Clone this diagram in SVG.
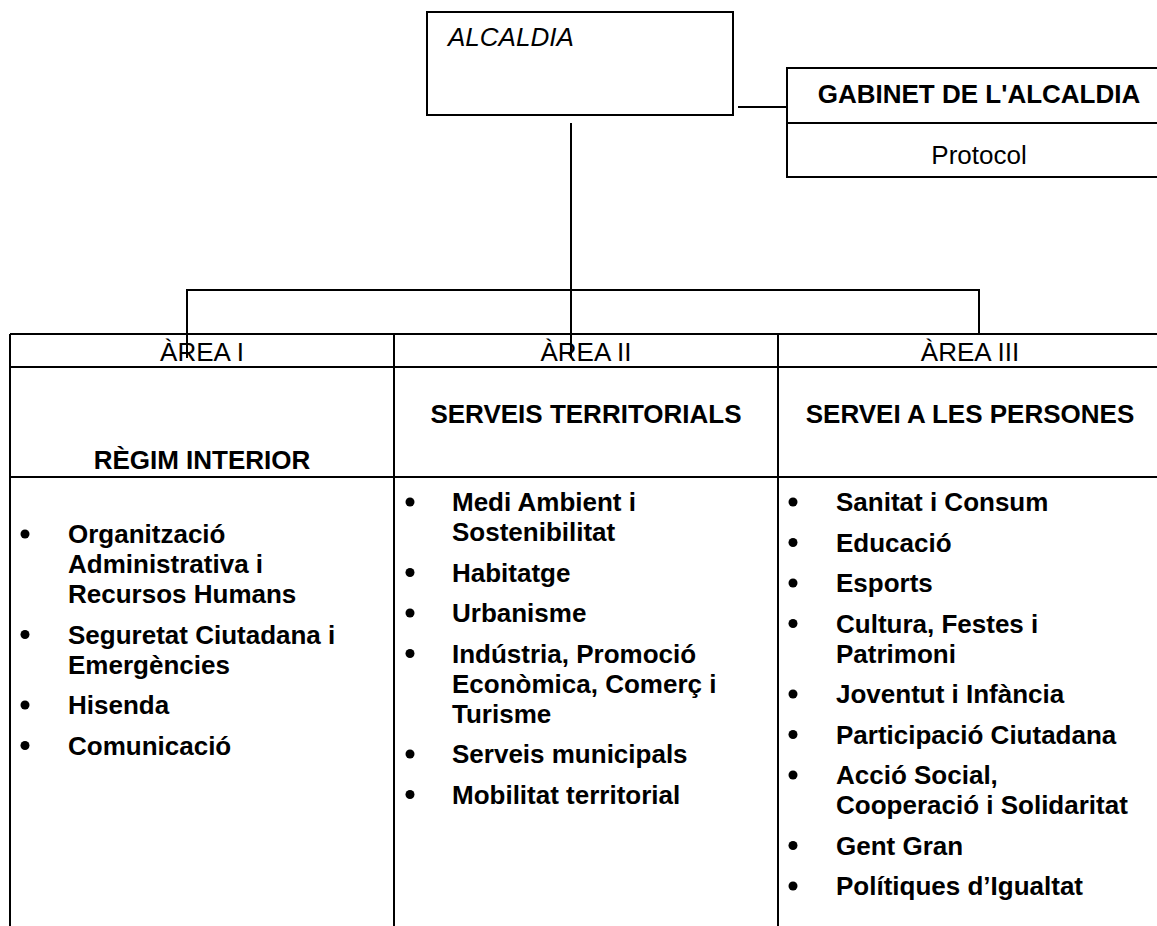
<svg xmlns="http://www.w3.org/2000/svg" width="1157" height="926" viewBox="0 0 1157 926">
<style>
.ln{stroke:#000;stroke-width:2;fill:none}
.box{stroke:#000;stroke-width:2;fill:#fff}
.t{font-family:"Liberation Sans",Arial,sans-serif;font-size:26px;fill:#000}
.b{font-weight:bold}
.i{font-style:italic}
.c{text-anchor:middle}
.dot{fill:#000}
</style>
<rect width="1157" height="926" fill="#fff"/>
<g id="connectors">
<path class="ln" d="M738,107 H787"/>
<path class="ln" d="M571,123 V358"/>
<path class="ln" d="M187,358 V290 H979 V334"/>
</g>
<g id="alcaldia">
<rect class="box" x="427" y="12" width="306" height="103"/>
<text class="t i" x="448" y="46">ALCALDIA</text>
</g>
<g id="gabinet">
<path class="ln" d="M1160,68 H787 V177 H1160 M787,123 H1160"/>
<text class="t b c" x="979" y="103">GABINET DE L'ALCALDIA</text>
<text class="t c" x="979" y="164">Protocol</text>
</g>
<g id="table-lines">
<path class="ln" d="M10,334 H1160 M10,367 H1160 M10,477 H1160 M10,334 V926 M394,334 V926 M778,334 V926"/>
</g>
<g id="area1">
<text class="t c" x="202" y="361">ÀREA I</text>
<text class="t b c" x="202" y="469">RÈGIM INTERIOR</text>
<g class="dot">
<circle cx="25" cy="534" r="4.5"/><circle cx="25" cy="634.5" r="4.5"/><circle cx="25" cy="705" r="4.5"/><circle cx="25" cy="745.5" r="4.5"/>
</g>
<text class="t b">
<tspan x="68" y="543">Organització</tspan>
<tspan x="68" y="573">Administrativa i</tspan>
<tspan x="68" y="603">Recursos Humans</tspan>
<tspan x="68" y="643.5">Seguretat Ciutadana i</tspan>
<tspan x="68" y="673.5">Emergències</tspan>
<tspan x="68" y="714">Hisenda</tspan>
<tspan x="68" y="754.5">Comunicació</tspan>
</text>
</g>
<g id="area2">
<text class="t c" x="586" y="361">ÀREA II</text>
<text class="t b c" x="586" y="423">SERVEIS TERRITORIALS</text>
<g class="dot">
<circle cx="410" cy="502" r="4.5"/><circle cx="410" cy="572.5" r="4.5"/><circle cx="410" cy="613" r="4.5"/><circle cx="410" cy="653.5" r="4.5"/><circle cx="410" cy="754" r="4.5"/><circle cx="410" cy="794.5" r="4.5"/>
</g>
<text class="t b">
<tspan x="452" y="511">Medi Ambient i</tspan>
<tspan x="452" y="541">Sostenibilitat</tspan>
<tspan x="452" y="581.5">Habitatge</tspan>
<tspan x="452" y="622">Urbanisme</tspan>
<tspan x="452" y="662.5">Indústria, Promoció</tspan>
<tspan x="452" y="692.5">Econòmica, Comerç i</tspan>
<tspan x="452" y="722.5">Turisme</tspan>
<tspan x="452" y="763">Serveis municipals</tspan>
<tspan x="452" y="803.5">Mobilitat territorial</tspan>
</text>
</g>
<g id="area3">
<text class="t c" x="970" y="361">ÀREA III</text>
<text class="t b c" x="970" y="423">SERVEI A LES PERSONES</text>
<g class="dot">
<circle cx="793" cy="502" r="4.5"/><circle cx="793" cy="542.5" r="4.5"/><circle cx="793" cy="583" r="4.5"/><circle cx="793" cy="623.5" r="4.5"/><circle cx="793" cy="694" r="4.5"/><circle cx="793" cy="734.5" r="4.5"/><circle cx="793" cy="775" r="4.5"/><circle cx="793" cy="845.5" r="4.5"/><circle cx="793" cy="886" r="4.5"/>
</g>
<text class="t b">
<tspan x="836" y="511">Sanitat i Consum</tspan>
<tspan x="836" y="551.5">Educació</tspan>
<tspan x="836" y="592">Esports</tspan>
<tspan x="836" y="632.5">Cultura, Festes i</tspan>
<tspan x="836" y="662.5">Patrimoni</tspan>
<tspan x="836" y="703">Joventut i Infància</tspan>
<tspan x="836" y="743.5">Participació Ciutadana</tspan>
<tspan x="836" y="784">Acció Social,</tspan>
<tspan x="836" y="814">Cooperació i Solidaritat</tspan>
<tspan x="836" y="854.5">Gent Gran</tspan>
<tspan x="836" y="895">Polítiques d’Igualtat</tspan>
</text>
</g>
</svg>
